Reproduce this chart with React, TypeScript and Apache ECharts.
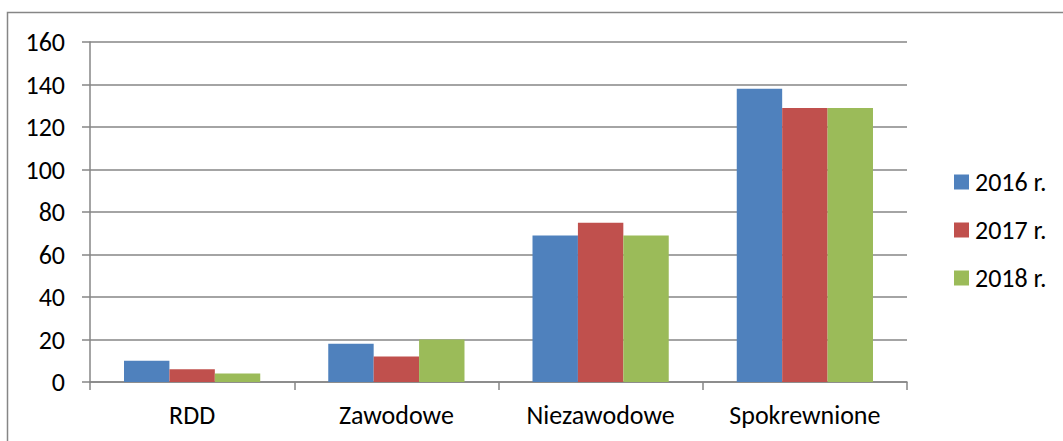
import React, { useEffect, useRef } from "react";
import * as echarts from "echarts";

const categories = ["RDD", "Zawodowe", "Niezawodowe", "Spokrewnione"];
const seriesNames = ["2016 r.", "2017 r.", "2018 r."];
const values2016 = [10, 18, 69, 138];
const values2017 = [6, 12, 75, 129];
const values2018 = [4, 20, 69, 129];
const colors = ["#4F81BD", "#C0504D", "#9BBB59"];

const FONT = "Calibri, Carlito, Lato, sans-serif";
const FS = 26;

export default function App() {
  const ref = useRef<HTMLDivElement>(null);
  useEffect(() => {
    if (!ref.current) return;
    const chart = echarts.init(ref.current, null, { renderer: "svg" });
    const data = [values2016, values2017, values2018];
    chart.setOption({
      animation: false,
      backgroundColor: "#ffffff",
      textStyle: { fontFamily: FONT },
      graphic: [
        {
          type: "rect",
          shape: { x: 7.5, y: 12.5, width: 1100, height: 500 },
          style: { fill: "none", stroke: "#868686", lineWidth: 1.5 },
          silent: true,
        },
      ],
      grid: { left: 90, right: 156, top: 42, bottom: 59 },
      legend: {
        orient: "vertical",
        left: 949,
        top: 164,
        itemWidth: 15,
        itemHeight: 15,
        itemGap: 22,
        icon: "rect",
        textStyle: { fontFamily: FONT, fontSize: FS, color: "#000", padding: [0, 0, 0, 1] },
        data: seriesNames,
      },
      xAxis: {
        type: "category",
        data: categories,
        boundaryGap: true,
        axisLine: { lineStyle: { color: "#868686", width: 1.5 } },
        axisTick: { show: true, length: 8, alignWithLabel: false, lineStyle: { color: "#868686", width: 1.5 } },
        axisLabel: { color: "#000", fontFamily: FONT, fontSize: FS, margin: 20 },
      },
      yAxis: {
        type: "value",
        min: 0,
        max: 160,
        interval: 20,
        axisLine: { show: true, lineStyle: { color: "#868686", width: 1.5 } },
        axisTick: { show: true, length: 8, lineStyle: { color: "#868686", width: 1.5 } },
        axisLabel: { color: "#000", fontFamily: FONT, fontSize: FS, margin: 25 },
        splitLine: { show: true, lineStyle: { color: "#868686", width: 1.5 } },
      },
      series: seriesNames.map((name, i) => ({
        name,
        type: "bar",
        data: data[i],
        itemStyle: { color: colors[i] },
        barGap: "0%",
        barCategoryGap: "33.3%",
      })),
    });
    return () => chart.dispose();
  }, []);
  return (
    <div
      ref={ref}
      style={{ position: "absolute", left: 0, top: 0, width: 1063, height: 441 }}
    />
  );
}
